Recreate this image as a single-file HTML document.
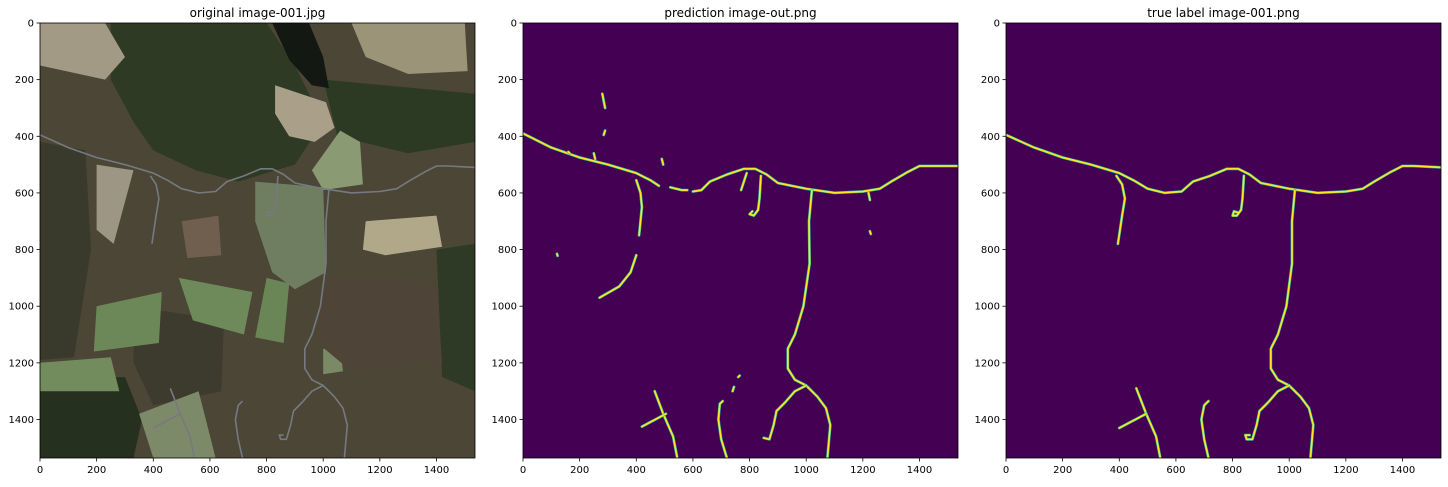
<!DOCTYPE html>
<html><head><meta charset="utf-8"><style>
body{margin:0;background:#fff;width:1448px;height:482px;overflow:hidden;font-family:"Liberation Sans","DejaVu Sans",sans-serif}
svg text{font-family:"DejaVu Sans","Liberation Sans",sans-serif;font-size:10px;fill:#000}
svg text.ttl{font-size:12px}
</style></head><body>
<svg id="fig" width="1448" height="482" viewBox="0 0 1448 482" xmlns="http://www.w3.org/2000/svg"></svg>
<script>
const xTicks=[0,200,400,600,800,1000,1200,1400];
const yTicks=[0,200,400,600,800,1000,1200,1400];
const panelTitles=["original image-001.jpg","prediction image-out.png","true label image-001.png"];
const imgSize=1536;
const trueRoads=[
[[0,395],[100,440],[200,475],[300,500],[400,530],[450,555],[500,585],[560,600],[620,595],[660,560],[720,540],[780,515],[820,515],[860,535],[900,565],[1000,585],[1100,600],[1200,595],[1260,585],[1300,560],[1360,525],[1400,505],[1440,505],[1536,510]],
[[390,540],[410,570],[420,620],[410,680],[395,780]],
[[840,540],[835,620],[830,660],[815,680],[800,680],[805,665],[820,670]],
[[1020,590],[1010,700],[1010,850],[990,1000],[960,1100],[935,1150],[935,1220],[960,1260],[1000,1280],[1040,1320],[1070,1360],[1085,1420],[1075,1536]],
[[1000,1280],[960,1300],[925,1340],[895,1370],[885,1420],[870,1470],[850,1470],[845,1455],[860,1455]],
[[545,1536],[530,1460],[495,1380],[460,1290]],
[[495,1380],[400,1430]],
[[715,1536],[700,1470],[690,1400],[700,1350],[715,1335]]
];
const predRoads=[
[[0,390],[100,440],[200,475],[300,500],[400,530],[450,555],[480,575]],
[[520,580],[560,590],[580,590]],
[[600,595],[630,590],[660,560],[720,535],[780,515],[820,515],[860,535],[900,565],[1000,585],[1100,600],[1200,595],[1260,585],[1300,560],[1360,525],[1400,505],[1536,505]],
[[280,250],[290,300]],[[290,380],[285,395]],
[[400,555],[415,600],[420,650],[415,700],[410,750]],
[[400,820],[380,880],[340,930],[270,970]],
[[840,540],[835,620],[830,660],[815,680],[800,675],[810,665]],
[[790,530],[770,590]],
[[1020,590],[1010,700],[1012,850],[990,1000],[960,1100],[935,1150],[935,1220],[960,1260],[1000,1280],[1040,1320],[1070,1360],[1085,1420],[1075,1536]],
[[1000,1280],[960,1300],[925,1340],[895,1370],[885,1420],[870,1470],[850,1465]],
[[545,1536],[530,1460],[495,1380],[465,1300]],
[[505,1380],[420,1425]],
[[720,1536],[700,1470],[690,1400],[695,1345],[705,1335]],
[[740,1300],[745,1285]],[[765,1245],[760,1250]],
[[1220,600],[1225,625]],[[1225,735],[1228,745]],[[120,815],[122,822]],
[[250,460],[255,480]],[[160,455],[165,460]],[[490,480],[495,500]]
];
const aerialPatches=[
["#3a3a2c",[[0,420],[160,450],[180,800],[120,1180],[0,1190]]],
["#26301f",[[0,1260],[300,1250],[360,1400],[330,1536],[0,1536]]],
["#3d3a2e",[[330,1000],[650,1050],[640,1300],[400,1350],[330,1200]]],
["#2f3a24",[[250,0],[800,0],[900,150],[1000,350],[900,500],[700,560],[550,520],[400,450],[330,350],[250,200]]],
["#2c3a24",[[1000,200],[1536,250],[1536,420],[1300,460],[1050,400]]],
["#2e3a26",[[1400,800],[1536,780],[1536,1300],[1420,1250]]],
["#a39a85",[[0,0],[230,0],[300,120],[230,200],[0,150]]],
["#aaa08a",[[830,220],[1010,280],[1040,370],[970,420],[880,400],[830,320]]],
["#141812",[[820,0],[950,0],[1000,120],[1020,230],[960,220],[880,130]]],
["#9b9478",[[1100,0],[1500,0],[1510,170],[1300,180],[1150,120]]],
["#8a9a72",[[1060,380],[1130,420],[1140,570],[1000,590],[960,520]]],
["#b0a888",[[1150,700],[1400,680],[1420,790],[1220,820],[1140,800]]],
["#6d8858",[[200,1000],[430,950],[420,1130],[190,1160]]],
["#6f8a5a",[[490,900],[750,950],[720,1100],[540,1050]]],
["#6a8656",[[800,900],[880,920],[860,1130],[760,1110]]],
["#728c5e",[[0,1200],[250,1180],[280,1300],[0,1300]]],
["#7a8a66",[[1000,1150],[1060,1150],[1070,1230],[1000,1240]]],
["#7d8a6a",[[350,1380],[560,1300],[620,1536],[400,1536]]],
["#6f7d60",[[760,560],[1000,580],[1010,880],[900,940],[820,880],[760,700]]],
["#4e4438",[[1000,900],[1400,920],[1420,1200],[1100,1230],[980,1130]]],
["#9e9684",[[200,500],[330,520],[260,780],[200,730]]],
["#705f4e",[[500,700],[630,680],[640,820],[520,830]]]
];
const NS="http://www.w3.org/2000/svg";
const svg=document.getElementById('fig');
const panels=[{x0:40},{x0:523},{x0:1006}];
const y0=23, size=435;
function mk(t,a,p){const e=document.createElementNS(NS,t);for(const k in a)e.setAttribute(k,a[k]);(p||svg).appendChild(e);return e;}
function sx(p,v){return panels[p].x0+v/imgSize*size;}
function sy(v){return y0+v/imgSize*size;}
function pts(p,arr){return arr.map(q=>sx(p,q[0]).toFixed(1)+","+sy(q[1]).toFixed(1)).join(" ");}
panels.forEach((pan,i)=>{
  const g=mk('g',{});
  
  
  const clipId='c'+i;
  const cp=mk('clipPath',{id:clipId},g);mk('rect',{x:pan.x0,y:y0,width:size,height:size},cp);
  const bg=mk('rect',{x:pan.x0,y:y0,width:size,height:size,fill:i==0?'#4c4636':'#440154'},g);
  
  
  const ig=mk('g',{'clip-path':'url(#'+clipId+')'},g);
  if(i==0){
    aerialPatches.forEach(pa=>{
      const e=mk('polygon',{points:pts(0,pa[1]),fill:pa[0]},ig);
      
      
    });
    trueRoads.forEach(r=>{
      const e=mk('polyline',{points:pts(0,r),fill:'none',stroke:'#747a80','stroke-width':1.6,'stroke-linejoin':'round'},ig);
      
      
    });
  } else {
    const roads=i==1?predRoads:trueRoads;
    roads.forEach(r=>{
      mk('polyline',{points:pts(i,r),fill:'none',stroke:'#2ab0a0','stroke-width':2.8,'stroke-linejoin':'round','stroke-linecap':'round'},ig);
      const e=mk('polyline',{points:pts(i,r),fill:'none',stroke:'#fde725','stroke-width':1.7,'stroke-linejoin':'round','stroke-linecap':'round'},ig);
      
      
    });
  }
  mk('rect',{x:pan.x0,y:y0,width:size,height:size,fill:'none',stroke:'#000','stroke-width':0.8},g);
  const t=mk('text',{x:pan.x0+size/2,y:17,'text-anchor':'middle','class':'ttl'},g);
  t.textContent=panelTitles[i];
  
  
  xTicks.forEach(v=>{
    const x=sx(i,v);
    mk('line',{x1:x,x2:x,y1:y0+size,y2:y0+size+3.5,stroke:'#000','stroke-width':0.8},g);
    const tt=mk('text',{x:x,y:y0+size+15,'text-anchor':'middle'},g);
    tt.textContent=v;
    
    
  });
  yTicks.forEach(v=>{
    const y=sy(v);
    mk('line',{x1:pan.x0-3.5,x2:pan.x0,y1:y,y2:y,stroke:'#000','stroke-width':0.8},g);
    const tt=mk('text',{x:pan.x0-6,y:y+3.5,'text-anchor':'end'},g);
    tt.textContent=v;
    
    
  });
});
</script>
</body></html>
